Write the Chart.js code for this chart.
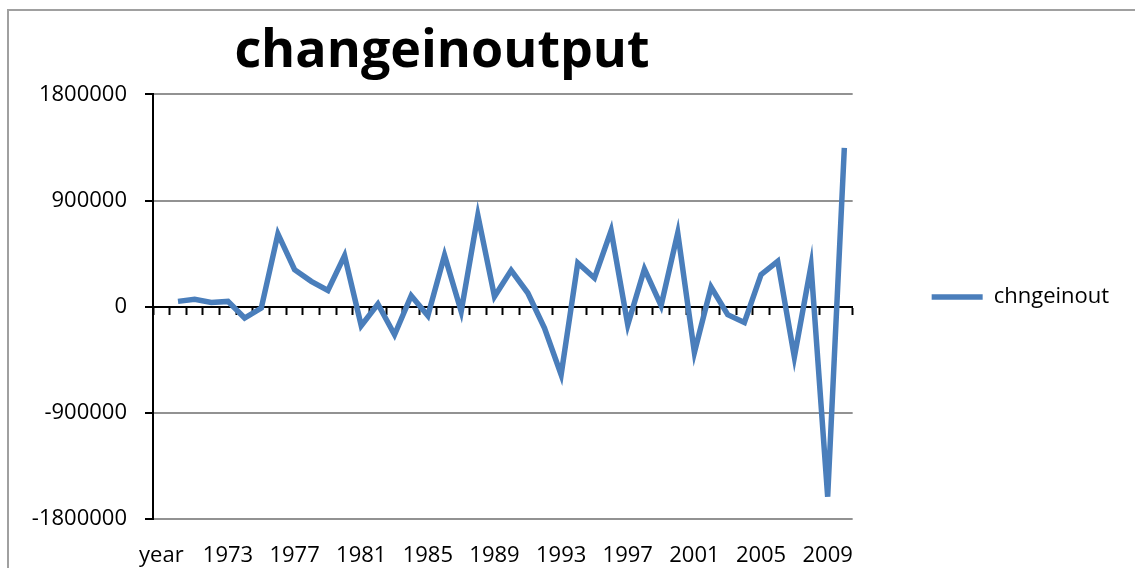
<!DOCTYPE html>
<html>
<head>
<meta charset="utf-8">
<script src="https://cdn.jsdelivr.net/npm/chart.js@4.4.0/dist/chart.umd.min.js"></script>
<style>
  html, body { margin: 0; padding: 0; background: #fff; }
  #wrap { width: 1135px; height: 568px; position: relative; }
</style>
</head>
<body>
<div id="wrap"><canvas id="chart" width="1135" height="568"></canvas></div>
<script>
// categories (first one is the stray "year" header from the sheet)
const years = ['year', '1970', '1971', '1972', '1973', '1974', '1975', '1976', '1977', '1978', '1979',
    '1980', '1981', '1982', '1983', '1984', '1985', '1986', '1987', '1988', '1989',
    '1990', '1991', '1992', '1993', '1994', '1995', '1996', '1997', '1998', '1999',
    '2000', '2001', '2002', '2003', '2004', '2005', '2006', '2007', '2008', '2009', '2010'];

// chngeinout values
const chngeinout = [null, 45000, 62000, 36500, 45000, -96000, -11000, 617000, 314000, 215000, 138000,
    433000, -161000, 23000, -238000, 93000, -76000, 436000, -40000, 775000, 87000,
    308000, 116000, -181000, -577000, 371000, 243000, 645000, -153000, 320000, 8500,
    626000, -388000, 167000, -68000, -133000, 272000, 385000, -427000, 348000, -1611000, 1347000];

const yTicks = [-1800000, -900000, 0, 900000, 1800000];

const lineBlue = '#4a7ebb';
const font = { family: 'Open Sans', size: 22 };

// grey frame round the chart, like the spreadsheet chart border
const framePlugin = {
    id: 'frame',
    beforeDraw(chart) {
        const ctx = chart.ctx;
        ctx.save();
        ctx.strokeStyle = '#a0a0a0';
        ctx.lineWidth = 2;
        ctx.beginPath();
        ctx.moveTo(8, chart.height);
        ctx.lineTo(8, 10);
        ctx.lineTo(chart.width, 10);
        ctx.stroke();
        ctx.restore();
    }
};

// the title is not centred on the canvas in the original;
// the legend box also gets a bit more room on the right so its text is not cut
const layoutTweaks = {
    id: 'layoutTweaks',
    afterLayout(chart) {
        const t = chart.titleBlock;
        if (t) {
            t.left = 442 - 420;
            t.right = 442 + 420;
        }
        const lg = chart.legend;
        if (lg) {
            lg.right += 25;
            lg.width += 25;
        }
    }
};

new Chart(document.getElementById('chart'), {
    type: 'line',
    data: {
        labels: years,
        datasets: [{
            label: 'chngeinout',
            data: chngeinout,
            borderColor: lineBlue,
            backgroundColor: lineBlue,
            borderWidth: 5.5,
            pointRadius: 0,
            tension: 0,
            fill: false,
            spanGaps: false,
        }],
    },
    options: {
        responsive: false,
        animation: false,
        layout: { padding: { left: 10, top: 12, right: 31, bottom: 0 } },
        plugins: {
            title: {
                display: true,
                text: 'changeinoutput',
                color: '#000',
                font: { family: 'Open Sans', size: 52, weight: 'bold', lineHeight: 1.2 },
                padding: { top: 9, bottom: 11 },
            },
            legend: {
                display: true,
                position: 'right',
                // empty title only nudges the entry down a little
                title: { display: true, text: '', font: { size: 10 }, padding: 1 },
                labels: {
                    color: '#000',
                    font: font,
                    usePointStyle: true,
                    pointStyle: 'line',
                    pointStyleWidth: 51,
                    padding: 10,
                },
            },
            tooltip: { enabled: false },
        },
        scales: {
            x: {
                type: 'category',
                offset: true,
                grid: { display: false, drawTicks: false },
                border: { display: false },
                afterFit(scale) {
                    scale.height = 49;
                },
                ticks: {
                    color: '#000',
                    font: font,
                    autoSkip: false,
                    maxRotation: 0,
                    padding: 24,
                    callback: function (value, index) {
                        return index % 4 === 0 ? this.getLabelForValue(value) : '';
                    },
                },
            },
            // horizontal axis line crossing at zero, with Excel-style tick marks
            xZero: {
                type: 'category',
                position: { y: 0 },
                offset: true,
                grid: {
                    offset: true,
                    drawOnChartArea: false,
                    drawTicks: true,
                    tickLength: 7,
                    tickColor: '#000',
                    tickWidth: 2,
                },
                border: { display: true, color: '#000', width: 2 },
                ticks: { display: false },
            },
            y: {
                position: 'left',
                min: -1800000,
                max: 1800000,
                afterBuildTicks(scale) {
                    scale.ticks = yTicks.map(v => ({ value: v }));
                },
                afterFit(scale) {
                    scale.width = 143;
                },
                grid: {
                    color: '#929292',
                    lineWidth: 2,
                    tickColor: '#000',
                    tickLength: 8,
                    tickWidth: 2,
                },
                border: { display: true, color: '#000', width: 2 },
                ticks: {
                    color: '#000',
                    font: font,
                    padding: 18,
                    callback: v => String(v),
                },
            },
            // empty spacer between plot and legend
            spacer: {
                type: 'linear',
                position: 'right',
                grid: { display: false },
                border: { display: false },
                ticks: { display: false },
                afterFit(scale) {
                    scale.width = 69;
                },
            },
        },
    },
    plugins: [framePlugin, layoutTweaks],
});
</script>
</body>
</html>
